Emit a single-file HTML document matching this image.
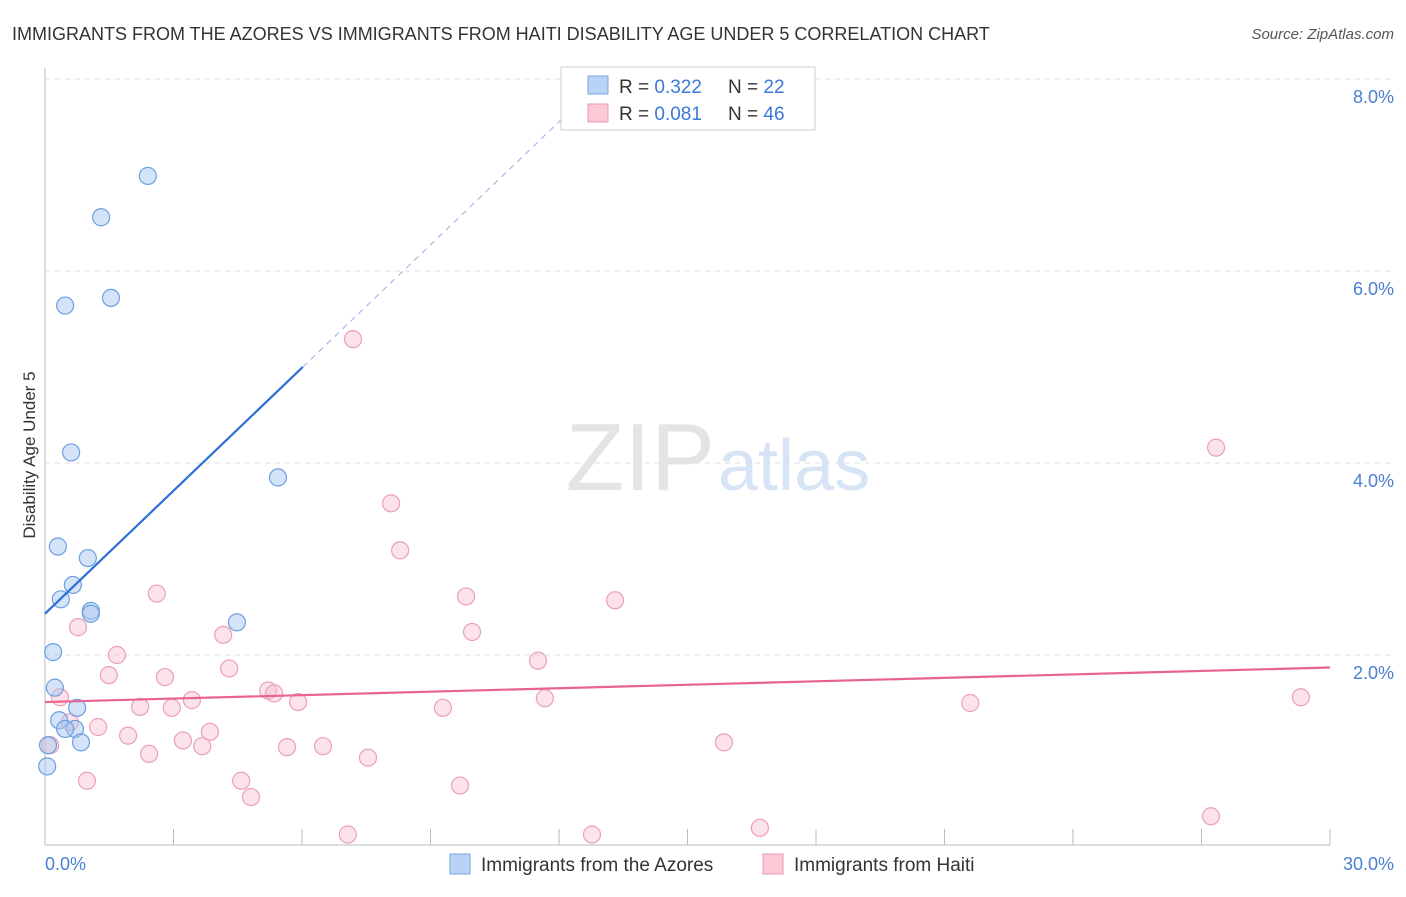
<!DOCTYPE html>
<html><head><meta charset="utf-8"><style>
body{margin:0;background:#fff;font-family:"Liberation Sans",sans-serif;}
svg text{font-family:"Liberation Sans",sans-serif;}
</style></head><body>
<svg width="1406" height="892" xmlns="http://www.w3.org/2000/svg">
<text x="12" y="40" font-size="18" fill="#333">IMMIGRANTS FROM THE AZORES VS IMMIGRANTS FROM HAITI DISABILITY AGE UNDER 5 CORRELATION CHART</text>
<text x="1394" y="39" font-size="15" fill="#555" font-style="italic" text-anchor="end">Source: ZipAtlas.com</text>
<g id="grid"></g>
<text x="715" y="490" font-size="96" fill="#e4e4e4" text-anchor="end" font-family="Liberation Serif">ZIP</text>
<text x="718" y="490" font-size="72" fill="#d6e4f5">atlas</text>
<g id="marks"></g>
<text x="35" y="455" font-size="17" fill="#333" text-anchor="middle" transform="rotate(-90 35 455)">Disability Age Under 5</text>
<text x="45" y="870" font-size="18" fill="#4a7fd4">0.0%</text>
<text x="1394" y="870" font-size="18" fill="#4a7fd4" text-anchor="end">30.0%</text>
<g>
<rect x="561" y="67" width="254" height="63" fill="#fff" stroke="#ccc"/>
<rect x="588" y="76" width="20" height="18" fill="#b8d3f5" stroke="#7aa5e0"/>
<rect x="588" y="104" width="20" height="18" fill="#fbc8d6" stroke="#ec9ab2"/>
<text x="619" y="93" font-size="19" fill="#333">R = <tspan fill="#3a78d8">0.322</tspan></text>
<text x="728" y="93" font-size="19" fill="#333">N = <tspan fill="#3a78d8">22</tspan></text>
<text x="619" y="120" font-size="19" fill="#333">R = <tspan fill="#3a78d8">0.081</tspan></text>
<text x="728" y="120" font-size="19" fill="#333">N = <tspan fill="#3a78d8">46</tspan></text>
</g>
<g>
<rect x="450" y="854" width="20" height="20" fill="#b8d3f5" stroke="#7aa5e0"/>
<text x="481" y="871" font-size="19" fill="#333">Immigrants from the Azores</text>
<rect x="763" y="854" width="20" height="20" fill="#fbc8d6" stroke="#ec9ab2"/>
<text x="794" y="871" font-size="19" fill="#333">Immigrants from Haiti</text>
</g>
</svg>
<script>
const yTicks=[2,4,6,8];
const xTicks=[0,3,6,9,12,15,18,21,24,27,30];
const azoresX=[2.40,1.31,0.47,1.54,0.61,5.44,0.30,1.00,0.65,0.37,1.07,1.07,4.48,0.19,0.23,0.75,0.33,0.70,0.47,0.84,0.07,0.05];
const azoresY=[6.99,6.56,5.64,5.72,4.11,3.85,3.13,3.01,2.73,2.58,2.46,2.43,2.34,2.03,1.66,1.45,1.32,1.23,1.23,1.09,1.06,0.84];
const haitiX=[7.19,27.34,8.08,8.29,2.61,9.83,13.31,0.77,9.97,4.16,1.68,11.51,1.49,2.80,4.30,5.21,5.35,0.35,3.43,5.91,11.67,29.32,21.60,2.22,2.96,9.29,1.24,3.85,0.58,1.94,3.22,3.67,5.65,6.49,15.85,0.12,2.43,7.54,0.98,4.58,9.69,4.81,7.07,12.77,16.69,27.22];
const haitiY=[5.29,4.16,3.58,3.09,2.64,2.61,2.57,2.29,2.24,2.21,2.00,1.94,1.79,1.77,1.86,1.63,1.60,1.56,1.53,1.51,1.55,1.56,1.50,1.46,1.45,1.45,1.25,1.20,1.30,1.16,1.11,1.05,1.04,1.05,1.09,1.06,0.97,0.93,0.69,0.69,0.64,0.52,0.13,0.13,0.20,0.32];
const azoresTrend=[2.43,0.427];
const haitiTrend=[1.51,0.012];
const NS='http://www.w3.org/2000/svg';
const X=v=>45+v/30*1285, Y=v=>847-v*96;
function mk(t,a,p){const e=document.createElementNS(NS,t);for(const k in a)e.setAttribute(k,a[k]);p.appendChild(e);return e;}
const grid=document.getElementById('grid'), marks=document.getElementById('marks');
const ax=mk('line',{x1:45,y1:68,x2:45,y2:845,stroke:'#bbb'},grid);


const bx=mk('line',{x1:45,y1:845,x2:1330,y2:845,stroke:'#bbb'},grid);


yTicks.forEach(v=>{
 const g=mk('line',{x1:45,y1:Y(v),x2:1394,y2:Y(v),stroke:'#ddd','stroke-dasharray':'5,5'},grid);
 
 
 const t=mk('text',{x:1394,y:Y(v)+24,'font-size':18,fill:'#4a7fd4','text-anchor':'end'},grid);
 t.textContent=v.toFixed(1)+'%';
 
 
});
xTicks.forEach(v=>{
 const l=mk('line',{x1:X(v),y1:829,x2:X(v),y2:845,stroke:'#bbb'},grid);
 
 
});
haitiX.forEach((x,i)=>{
 const c=mk('circle',{cx:X(x),cy:Y(haitiY[i]),r:8.5,fill:'rgba(248,190,208,0.45)',stroke:'#eca0b8','stroke-width':1.2},marks);
 
 
});
azoresX.forEach((x,i)=>{
 const c=mk('circle',{cx:X(x),cy:Y(azoresY[i]),r:8.5,fill:'rgba(170,200,240,0.5)',stroke:'#6d9fe0','stroke-width':1.2},marks);
 
 
});
const ab=azoresTrend[0], as=azoresTrend[1];
const t1=mk('line',{x1:X(0),y1:Y(ab),x2:X(6.02),y2:Y(ab+as*6.02),stroke:'#2a6fd6','stroke-width':2.2},marks);


const t2=mk('line',{x1:X(6.02),y1:Y(ab+as*6.02),x2:X(12.7),y2:Y(ab+as*12.7),stroke:'#8fb3e6','stroke-width':1,'stroke-dasharray':'6,5'},marks);


const t3=mk('line',{x1:X(0),y1:Y(haitiTrend[0]),x2:X(30),y2:Y(haitiTrend[0]+haitiTrend[1]*30),stroke:'#e8648e','stroke-width':2.2},marks);


</script>
</body></html>
